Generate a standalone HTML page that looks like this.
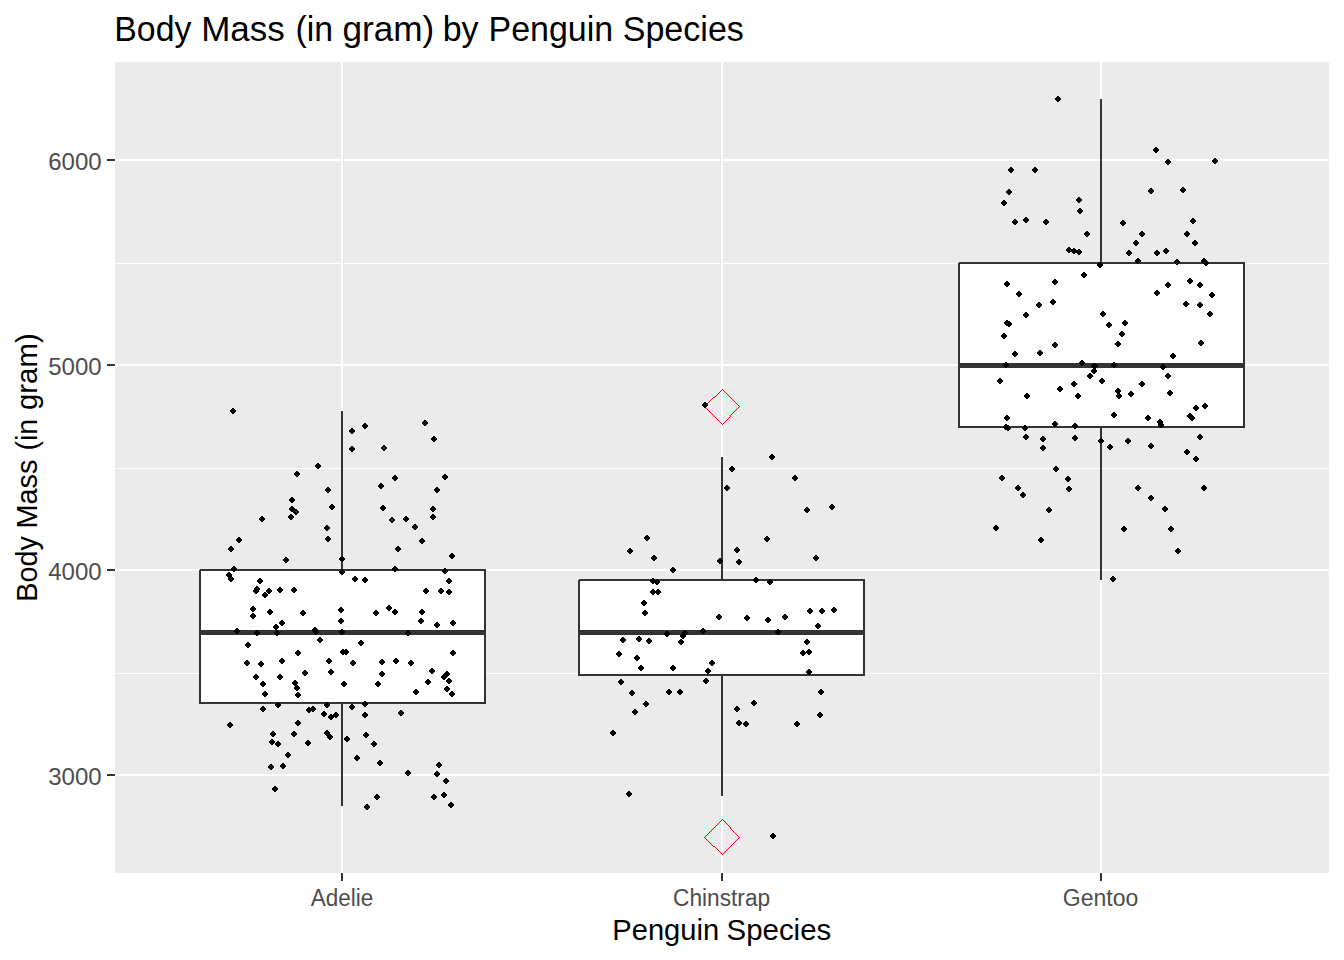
<!DOCTYPE html>
<html><head><meta charset="utf-8">
<style>
html,body{margin:0;padding:0;background:#fff;}
body{width:1344px;height:960px;overflow:hidden;position:relative;font-family:"Liberation Sans",sans-serif;}
svg{position:absolute;left:0;top:0;}
text{font-family:"Liberation Sans",sans-serif;}
</style></head><body>
<svg width="1344" height="960" viewBox="0 0 1344 960">
<rect x="0" y="0" width="1344" height="960" fill="#ffffff"/>
<!-- panel -->
<rect x="115" y="62" width="1214" height="811" fill="#ebebeb"/>
<!-- minor grid -->
<g stroke="#ffffff" stroke-width="1" fill="none" shape-rendering="crispEdges">
<path d="M115 263.5H1329M115 468.5H1329M115 673.5H1329"/>
</g>
<!-- major grid -->
<g stroke="#ffffff" stroke-width="2" fill="none" shape-rendering="crispEdges">
<path d="M115 160H1329M115 365H1329M115 570H1329M115 775H1329"/>
<path d="M342 62V873M722 62V873M1101 62V873"/>
</g>
<g id="boxes" shape-rendering="crispEdges">
<path d="M342 411V570M342 703V806" stroke="#333333" stroke-width="2" fill="none"/>
<rect x="200" y="570" width="285" height="133" fill="#ffffff" stroke="#333333" stroke-width="2" stroke-linejoin="round"/>
<rect x="200" y="630" width="285" height="5" fill="#333333"/>
<path d="M722 457V580M722 675V796" stroke="#333333" stroke-width="2" fill="none"/>
<rect x="579" y="580" width="285" height="95" fill="#ffffff" stroke="#333333" stroke-width="2" stroke-linejoin="round"/>
<rect x="579" y="630" width="285" height="5" fill="#333333"/>
<path d="M1101 99V263M1101 427V580" stroke="#333333" stroke-width="2" fill="none"/>
<rect x="959" y="263" width="285" height="164" fill="#ffffff" stroke="#333333" stroke-width="2" stroke-linejoin="round"/>
<rect x="959" y="363" width="285" height="5" fill="#333333"/>
<path fill="#ebebeb" d="M199 569h1v1h-1zM578 579h1v1h-1zM958 262h1v1h-1z"/>
</g>
<path shape-rendering="crispEdges" fill="#ff0000" d="M704 406h1v1h-1zM704 837h1v1h-1zM705 405h1v1h-1zM705 407h1v1h-1zM705 836h1v1h-1zM705 838h1v1h-1zM706 404h1v1h-1zM706 408h1v1h-1zM706 835h1v1h-1zM706 839h1v1h-1zM707 403h1v1h-1zM707 409h1v1h-1zM707 834h1v1h-1zM707 840h1v1h-1zM708 402h1v1h-1zM708 410h1v1h-1zM708 833h1v1h-1zM708 841h1v1h-1zM709 401h1v1h-1zM709 411h1v1h-1zM709 832h1v1h-1zM709 842h1v1h-1zM710 400h1v1h-1zM710 412h1v1h-1zM710 831h1v1h-1zM710 843h1v1h-1zM711 399h1v1h-1zM711 413h1v1h-1zM711 830h1v1h-1zM711 844h1v1h-1zM712 398h1v1h-1zM712 414h1v1h-1zM712 829h1v1h-1zM712 845h1v1h-1zM713 397h1v1h-1zM713 415h1v1h-1zM713 828h1v1h-1zM713 846h1v1h-1zM714 397h1v1h-1zM714 416h1v1h-1zM714 827h1v1h-1zM714 846h1v1h-1zM715 396h1v1h-1zM715 417h1v1h-1zM715 826h1v1h-1zM715 847h1v1h-1zM716 395h1v1h-1zM716 418h1v1h-1zM716 825h1v1h-1zM716 848h1v1h-1zM717 394h1v1h-1zM717 419h1v1h-1zM717 824h1v1h-1zM717 849h1v1h-1zM718 393h1v1h-1zM718 420h1v1h-1zM718 823h1v1h-1zM718 850h1v1h-1zM719 392h1v1h-1zM719 421h1v1h-1zM719 822h1v1h-1zM719 851h1v1h-1zM720 391h1v1h-1zM720 422h1v1h-1zM720 821h1v1h-1zM720 852h1v1h-1zM721 390h1v1h-1zM721 423h1v1h-1zM721 820h1v1h-1zM721 853h1v1h-1zM722 389h1v1h-1zM722 424h1v1h-1zM722 819h1v1h-1zM722 854h1v1h-1zM723 390h1v1h-1zM723 423h1v1h-1zM723 820h1v1h-1zM723 853h1v1h-1zM724 391h1v1h-1zM724 422h1v1h-1zM724 821h1v1h-1zM724 852h1v1h-1zM725 392h1v1h-1zM725 421h1v1h-1zM725 822h1v1h-1zM725 851h1v1h-1zM726 393h1v1h-1zM726 420h1v1h-1zM726 823h1v1h-1zM726 850h1v1h-1zM727 394h1v1h-1zM727 419h1v1h-1zM727 824h1v1h-1zM727 849h1v1h-1zM728 395h1v1h-1zM728 418h1v1h-1zM728 825h1v1h-1zM728 848h1v1h-1zM729 396h1v1h-1zM729 417h1v1h-1zM729 826h1v1h-1zM729 847h1v1h-1zM730 397h1v1h-1zM730 415h1v1h-1zM730 416h1v1h-1zM730 827h1v1h-1zM730 828h1v1h-1zM730 846h1v1h-1zM731 398h1v1h-1zM731 414h1v1h-1zM731 829h1v1h-1zM731 845h1v1h-1zM732 399h1v1h-1zM732 413h1v1h-1zM732 830h1v1h-1zM732 844h1v1h-1zM733 400h1v1h-1zM733 412h1v1h-1zM733 831h1v1h-1zM733 843h1v1h-1zM734 401h1v1h-1zM734 411h1v1h-1zM734 832h1v1h-1zM734 842h1v1h-1zM735 402h1v1h-1zM735 410h1v1h-1zM735 833h1v1h-1zM735 841h1v1h-1zM736 403h1v1h-1zM736 409h1v1h-1zM736 834h1v1h-1zM736 840h1v1h-1zM737 404h1v1h-1zM737 408h1v1h-1zM737 835h1v1h-1zM737 839h1v1h-1zM738 405h1v1h-1zM738 407h1v1h-1zM738 836h1v1h-1zM738 838h1v1h-1zM739 406h1v1h-1zM739 837h1v1h-1z"/>
<defs><path id="p" d="M-1-3h2v1h1v1h1v2h-1v1h-1v1h-2v-1h-1v-1h-1v-2h1v-1h1z"/></defs>
<g id="pts" fill="#000" shape-rendering="crispEdges">
<use href="#p" x="233" y="411"/><use href="#p" x="425" y="423"/><use href="#p" x="365" y="426"/><use href="#p" x="352" y="431"/><use href="#p" x="434" y="439"/><use href="#p" x="384" y="448"/><use href="#p" x="352" y="449"/><use href="#p" x="318" y="466"/>
<use href="#p" x="297" y="474"/><use href="#p" x="395" y="478"/><use href="#p" x="445" y="477"/><use href="#p" x="381" y="486"/><use href="#p" x="328" y="490"/><use href="#p" x="437" y="490"/><use href="#p" x="292" y="500"/><use href="#p" x="332" y="507"/>
<use href="#p" x="383" y="508"/><use href="#p" x="433" y="509"/><use href="#p" x="292" y="509"/><use href="#p" x="296" y="512"/><use href="#p" x="291" y="517"/><use href="#p" x="433" y="517"/><use href="#p" x="262" y="519"/><use href="#p" x="392" y="520"/>
<use href="#p" x="406" y="519"/><use href="#p" x="415" y="527"/><use href="#p" x="327" y="528"/><use href="#p" x="328" y="539"/><use href="#p" x="239" y="540"/><use href="#p" x="422" y="541"/><use href="#p" x="231" y="549"/><use href="#p" x="398" y="549"/>
<use href="#p" x="452" y="556"/><use href="#p" x="286" y="560"/><use href="#p" x="342" y="559"/><use href="#p" x="234" y="569"/><use href="#p" x="229" y="575"/><use href="#p" x="231" y="579"/><use href="#p" x="260" y="581"/><use href="#p" x="257" y="589"/>
<use href="#p" x="256" y="591"/><use href="#p" x="269" y="591"/><use href="#p" x="265" y="595"/><use href="#p" x="280" y="590"/><use href="#p" x="294" y="590"/><use href="#p" x="253" y="609"/><use href="#p" x="253" y="616"/><use href="#p" x="270" y="612"/>
<use href="#p" x="303" y="613"/><use href="#p" x="282" y="623"/><use href="#p" x="276" y="627"/><use href="#p" x="395" y="569"/><use href="#p" x="342" y="572"/><use href="#p" x="445" y="571"/><use href="#p" x="355" y="579"/><use href="#p" x="365" y="580"/>
<use href="#p" x="449" y="581"/><use href="#p" x="426" y="591"/><use href="#p" x="441" y="591"/><use href="#p" x="449" y="592"/><use href="#p" x="341" y="610"/><use href="#p" x="389" y="608"/><use href="#p" x="395" y="612"/><use href="#p" x="376" y="613"/>
<use href="#p" x="422" y="612"/><use href="#p" x="341" y="621"/><use href="#p" x="421" y="621"/><use href="#p" x="453" y="623"/><use href="#p" x="437" y="625"/><use href="#p" x="237" y="631"/><use href="#p" x="257" y="633"/><use href="#p" x="277" y="633"/>
<use href="#p" x="315" y="630"/><use href="#p" x="316" y="632"/><use href="#p" x="320" y="640"/><use href="#p" x="248" y="645"/><use href="#p" x="298" y="653"/><use href="#p" x="282" y="661"/><use href="#p" x="329" y="661"/><use href="#p" x="247" y="663"/>
<use href="#p" x="261" y="664"/><use href="#p" x="331" y="672"/><use href="#p" x="305" y="673"/><use href="#p" x="256" y="677"/><use href="#p" x="280" y="677"/><use href="#p" x="295" y="683"/><use href="#p" x="263" y="684"/><use href="#p" x="297" y="688"/>
<use href="#p" x="265" y="694"/><use href="#p" x="298" y="695"/><use href="#p" x="342" y="632"/><use href="#p" x="408" y="633"/><use href="#p" x="361" y="643"/><use href="#p" x="343" y="652"/><use href="#p" x="346" y="652"/><use href="#p" x="453" y="653"/>
<use href="#p" x="353" y="663"/><use href="#p" x="382" y="662"/><use href="#p" x="396" y="661"/><use href="#p" x="411" y="663"/><use href="#p" x="432" y="671"/><use href="#p" x="382" y="674"/><use href="#p" x="447" y="674"/><use href="#p" x="444" y="677"/>
<use href="#p" x="449" y="681"/><use href="#p" x="428" y="682"/><use href="#p" x="344" y="684"/><use href="#p" x="378" y="684"/><use href="#p" x="447" y="689"/><use href="#p" x="416" y="692"/><use href="#p" x="452" y="694"/><use href="#p" x="278" y="705"/>
<use href="#p" x="327" y="705"/><use href="#p" x="263" y="709"/><use href="#p" x="309" y="710"/><use href="#p" x="313" y="709"/><use href="#p" x="324" y="714"/><use href="#p" x="352" y="707"/><use href="#p" x="365" y="704"/><use href="#p" x="365" y="715"/>
<use href="#p" x="401" y="713"/><use href="#p" x="331" y="717"/><use href="#p" x="336" y="715"/><use href="#p" x="298" y="723"/><use href="#p" x="230" y="725"/><use href="#p" x="273" y="734"/><use href="#p" x="294" y="734"/><use href="#p" x="327" y="733"/>
<use href="#p" x="330" y="737"/><use href="#p" x="366" y="735"/><use href="#p" x="347" y="739"/><use href="#p" x="272" y="742"/><use href="#p" x="278" y="744"/><use href="#p" x="308" y="743"/><use href="#p" x="374" y="744"/><use href="#p" x="288" y="755"/>
<use href="#p" x="357" y="758"/><use href="#p" x="380" y="763"/><use href="#p" x="271" y="767"/><use href="#p" x="283" y="766"/><use href="#p" x="439" y="765"/><use href="#p" x="408" y="773"/><use href="#p" x="437" y="774"/><use href="#p" x="446" y="781"/>
<use href="#p" x="275" y="789"/><use href="#p" x="377" y="797"/><use href="#p" x="434" y="797"/><use href="#p" x="444" y="795"/><use href="#p" x="451" y="805"/><use href="#p" x="367" y="807"/><use href="#p" x="705" y="405"/><use href="#p" x="772" y="457"/>
<use href="#p" x="732" y="469"/><use href="#p" x="795" y="478"/><use href="#p" x="727" y="488"/><use href="#p" x="832" y="507"/><use href="#p" x="807" y="510"/><use href="#p" x="647" y="538"/><use href="#p" x="767" y="539"/><use href="#p" x="630" y="551"/>
<use href="#p" x="737" y="550"/><use href="#p" x="654" y="558"/><use href="#p" x="816" y="558"/><use href="#p" x="720" y="561"/><use href="#p" x="739" y="562"/><use href="#p" x="673" y="570"/><use href="#p" x="653" y="581"/><use href="#p" x="657" y="582"/>
<use href="#p" x="653" y="592"/><use href="#p" x="658" y="592"/><use href="#p" x="644" y="603"/><use href="#p" x="645" y="613"/><use href="#p" x="719" y="617"/><use href="#p" x="703" y="631"/><use href="#p" x="667" y="634"/><use href="#p" x="685" y="633"/>
<use href="#p" x="683" y="636"/><use href="#p" x="681" y="642"/><use href="#p" x="623" y="640"/><use href="#p" x="639" y="639"/><use href="#p" x="649" y="641"/><use href="#p" x="756" y="580"/><use href="#p" x="770" y="582"/><use href="#p" x="747" y="618"/>
<use href="#p" x="768" y="620"/><use href="#p" x="785" y="617"/><use href="#p" x="810" y="611"/><use href="#p" x="822" y="611"/><use href="#p" x="834" y="610"/><use href="#p" x="818" y="626"/><use href="#p" x="778" y="632"/><use href="#p" x="807" y="642"/>
<use href="#p" x="619" y="654"/><use href="#p" x="637" y="658"/><use href="#p" x="641" y="668"/><use href="#p" x="673" y="668"/><use href="#p" x="712" y="663"/><use href="#p" x="708" y="671"/><use href="#p" x="706" y="681"/><use href="#p" x="621" y="682"/>
<use href="#p" x="632" y="693"/><use href="#p" x="669" y="692"/><use href="#p" x="680" y="692"/><use href="#p" x="646" y="704"/><use href="#p" x="635" y="712"/><use href="#p" x="803" y="653"/><use href="#p" x="809" y="652"/><use href="#p" x="809" y="672"/>
<use href="#p" x="821" y="692"/><use href="#p" x="754" y="703"/><use href="#p" x="737" y="709"/><use href="#p" x="820" y="715"/><use href="#p" x="739" y="723"/><use href="#p" x="746" y="724"/><use href="#p" x="797" y="724"/><use href="#p" x="613" y="733"/>
<use href="#p" x="629" y="794"/><use href="#p" x="773" y="836"/><use href="#p" x="1058" y="99"/><use href="#p" x="1156" y="150"/><use href="#p" x="1168" y="162"/><use href="#p" x="1215" y="161"/><use href="#p" x="1011" y="170"/><use href="#p" x="1035" y="170"/>
<use href="#p" x="1151" y="191"/><use href="#p" x="1183" y="190"/><use href="#p" x="1009" y="192"/><use href="#p" x="1004" y="203"/><use href="#p" x="1079" y="200"/><use href="#p" x="1080" y="211"/><use href="#p" x="1026" y="220"/><use href="#p" x="1015" y="222"/>
<use href="#p" x="1046" y="222"/><use href="#p" x="1123" y="223"/><use href="#p" x="1193" y="221"/><use href="#p" x="1087" y="234"/><use href="#p" x="1142" y="234"/><use href="#p" x="1187" y="234"/><use href="#p" x="1136" y="243"/><use href="#p" x="1195" y="243"/>
<use href="#p" x="1069" y="250"/><use href="#p" x="1074" y="251"/><use href="#p" x="1079" y="252"/><use href="#p" x="1100" y="265"/><use href="#p" x="1084" y="275"/><use href="#p" x="1055" y="282"/><use href="#p" x="1007" y="284"/><use href="#p" x="1019" y="294"/>
<use href="#p" x="1053" y="302"/><use href="#p" x="1039" y="305"/><use href="#p" x="1129" y="253"/><use href="#p" x="1157" y="253"/><use href="#p" x="1166" y="251"/><use href="#p" x="1138" y="261"/><use href="#p" x="1177" y="262"/><use href="#p" x="1204" y="261"/>
<use href="#p" x="1206" y="263"/><use href="#p" x="1190" y="281"/><use href="#p" x="1168" y="285"/><use href="#p" x="1200" y="285"/><use href="#p" x="1157" y="293"/><use href="#p" x="1212" y="295"/><use href="#p" x="1186" y="304"/><use href="#p" x="1200" y="305"/>
<use href="#p" x="1026" y="315"/><use href="#p" x="1103" y="314"/><use href="#p" x="1007" y="323"/><use href="#p" x="1009" y="324"/><use href="#p" x="1004" y="336"/><use href="#p" x="1055" y="345"/><use href="#p" x="1015" y="354"/><use href="#p" x="1040" y="353"/>
<use href="#p" x="1006" y="365"/><use href="#p" x="1082" y="363"/><use href="#p" x="1094" y="366"/><use href="#p" x="1095" y="366"/><use href="#p" x="1094" y="371"/><use href="#p" x="1090" y="376"/><use href="#p" x="1102" y="381"/><use href="#p" x="1000" y="381"/>
<use href="#p" x="1074" y="384"/><use href="#p" x="1210" y="314"/><use href="#p" x="1109" y="325"/><use href="#p" x="1125" y="323"/><use href="#p" x="1122" y="334"/><use href="#p" x="1118" y="344"/><use href="#p" x="1201" y="343"/><use href="#p" x="1173" y="356"/>
<use href="#p" x="1114" y="365"/><use href="#p" x="1163" y="367"/><use href="#p" x="1168" y="376"/><use href="#p" x="1142" y="384"/><use href="#p" x="1060" y="389"/><use href="#p" x="1027" y="396"/><use href="#p" x="1078" y="396"/><use href="#p" x="1007" y="418"/>
<use href="#p" x="1055" y="424"/><use href="#p" x="1006" y="427"/><use href="#p" x="1008" y="428"/><use href="#p" x="1025" y="428"/><use href="#p" x="1075" y="426"/><use href="#p" x="1026" y="437"/><use href="#p" x="1043" y="439"/><use href="#p" x="1075" y="438"/>
<use href="#p" x="1101" y="441"/><use href="#p" x="1043" y="448"/><use href="#p" x="1118" y="391"/><use href="#p" x="1119" y="396"/><use href="#p" x="1131" y="394"/><use href="#p" x="1170" y="393"/><use href="#p" x="1205" y="406"/><use href="#p" x="1196" y="408"/>
<use href="#p" x="1190" y="416"/><use href="#p" x="1192" y="418"/><use href="#p" x="1114" y="415"/><use href="#p" x="1148" y="418"/><use href="#p" x="1160" y="422"/><use href="#p" x="1161" y="425"/><use href="#p" x="1200" y="437"/><use href="#p" x="1128" y="441"/>
<use href="#p" x="1110" y="447"/><use href="#p" x="1151" y="446"/><use href="#p" x="1187" y="452"/><use href="#p" x="1196" y="459"/><use href="#p" x="1056" y="469"/><use href="#p" x="1002" y="478"/><use href="#p" x="1068" y="479"/><use href="#p" x="1018" y="488"/>
<use href="#p" x="1069" y="489"/><use href="#p" x="1138" y="488"/><use href="#p" x="1204" y="488"/><use href="#p" x="1023" y="495"/><use href="#p" x="1151" y="498"/><use href="#p" x="1049" y="510"/><use href="#p" x="1165" y="509"/><use href="#p" x="996" y="528"/>
<use href="#p" x="1124" y="529"/><use href="#p" x="1171" y="529"/><use href="#p" x="1041" y="540"/><use href="#p" x="1178" y="551"/><use href="#p" x="1113" y="579"/>
</g>
<!-- ticks -->
<g stroke="#333333" stroke-width="2" fill="none" shape-rendering="crispEdges">
<path d="M107 160H115M107 365H115M107 570H115M107 775H115"/>
<path d="M342 873V881M722 873V881M1101 873V881"/>
</g>
<g fill="#4d4d4d" font-size="23px">
<text x="101.6" y="169.7" text-anchor="end" textLength="53.4" lengthAdjust="spacingAndGlyphs">6000</text>
<text x="101.6" y="374.7" text-anchor="end" textLength="53.4" lengthAdjust="spacingAndGlyphs">5000</text>
<text x="101.6" y="579.7" text-anchor="end" textLength="53.4" lengthAdjust="spacingAndGlyphs">4000</text>
<text x="101.6" y="784.7" text-anchor="end" textLength="53.4" lengthAdjust="spacingAndGlyphs">3000</text>
<text x="342.1" y="906.4" text-anchor="middle" textLength="62.5" lengthAdjust="spacingAndGlyphs">Adelie</text>
<text x="721.6" y="906.4" text-anchor="middle" textLength="97.1" lengthAdjust="spacingAndGlyphs">Chinstrap</text>
<text x="1100.6" y="906.4" text-anchor="middle" textLength="75.5" lengthAdjust="spacingAndGlyphs">Gentoo</text>
</g>
<g font-size="35.2px" fill="#000">
<text x="114.34" y="40.8" textLength="76.96" lengthAdjust="spacingAndGlyphs">Body</text>
<text x="201.14" y="40.8" textLength="83.68" lengthAdjust="spacingAndGlyphs">Mass</text>
<text x="295.46" y="40.8" textLength="37.49" lengthAdjust="spacingAndGlyphs">(in</text>
<text x="342.4" y="40.8" textLength="91.76" lengthAdjust="spacingAndGlyphs">gram)</text>
<text x="442.73" y="40.8" textLength="35.82" lengthAdjust="spacingAndGlyphs">by</text>
<text x="488.52" y="40.8" textLength="124.7" lengthAdjust="spacingAndGlyphs">Penguin</text>
<text x="622.73" y="40.8" textLength="121.16" lengthAdjust="spacingAndGlyphs">Species</text>
</g>
<g font-size="29.33px" fill="#000">
<text x="612.32" y="939.8" textLength="106.78" lengthAdjust="spacingAndGlyphs">Penguin</text>
<text x="726.54" y="939.8" textLength="104.68" lengthAdjust="spacingAndGlyphs">Species</text>
<g transform="translate(37,600) rotate(-90)">
<text x="-1.85" y="0" textLength="65.71" lengthAdjust="spacingAndGlyphs">Body</text>
<text x="71.54" y="0" textLength="68.95" lengthAdjust="spacingAndGlyphs">Mass</text>
<text x="149.38" y="0" textLength="31.75" lengthAdjust="spacingAndGlyphs">(in</text>
<text x="190.0" y="0" textLength="76.71" lengthAdjust="spacingAndGlyphs">gram)</text>
</g></g>
</svg>
</body></html>
